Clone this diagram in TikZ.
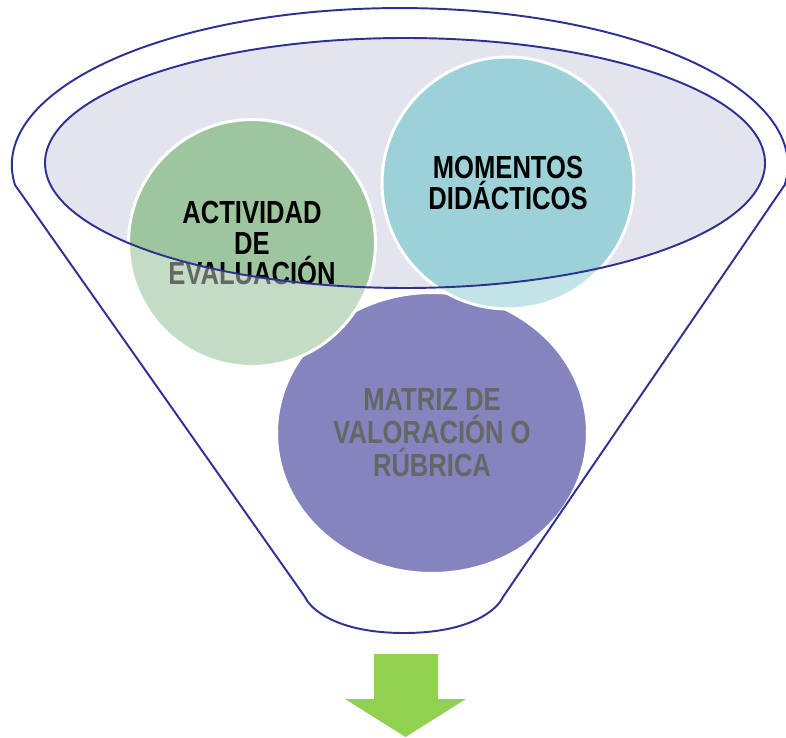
\documentclass[tikz,border=0pt]{standalone}
\usepackage{fontspec}
\newfontfamily\bubblefont[FakeStretch=0.8]{Liberation Sans}
\usetikzlibrary{shapes.geometric}

\definecolor{funnelblue}{HTML}{2E3192}
\definecolor{rimgray}{HTML}{E4E4EE}
\definecolor{actgreen}{HTML}{9EC69E}
\definecolor{momblue}{HTML}{9CD2D7}
\definecolor{matpurple}{HTML}{343294}
\definecolor{arrowgreen}{HTML}{92D050}

\begin{document}
\begin{tikzpicture}[
		x=0.02cm, y=0.02cm,
		bubble/.style={circle, draw=white, line width=1.7pt, inner sep=0pt},
		caption/.style={font=\bubblefont\bfseries\fontsize{18.2pt}{#1}\selectfont, align=center, text=black},
		caption/.default=17.6pt,
		rim/.style={draw=funnelblue, line width=1.1pt}
		]
		
		\useasboundingbox (0,0) rectangle (786,737);
		
		% Funnel mouth
		\coordinate (mouth) at (405,574);
		\fill[rimgray] (mouth) ellipse [x radius=360, y radius=125];
		
		% Bubbles
		\node[bubble, caption=18.8pt, ellipse, fill=matpurple, minimum width=6.22cm, minimum height=5.62cm] (matriz) at (432,304) {MATRIZ DE\\VALORACIÓN O\\RÚBRICA};
		\node[bubble, caption, fill=actgreen, minimum size=4.94cm] (actividad) at (252,494) {ACTIVIDAD\\DE\\EVALUACIÓN};
		\node[bubble, caption, fill=momblue, minimum size=5.04cm] (momentos) at (508,554) {MOMENTOS\\DIDÁCTICOS};
		
		% Light veil outside the mouth
		\fill[white, fill opacity=0.4, even odd rule] (0,0) rectangle (786,737) (mouth) ellipse [x radius=360, y radius=125];
		
		% Funnel outline
		\draw[rim] (15,552) arc [start angle=187.3, end angle=-7.3, x radius=388, y radius=157]
			-- (503,140) .. controls (497,127) and (470,104) .. (404,104)
			.. controls (338,104) and (311,127) .. (305,140) -- cycle;
		\draw[rim] (mouth) ellipse [x radius=360, y radius=125];
		
		% Output arrow
		\fill[arrowgreen] (374,83) -- (438,83) -- (438,38) -- (466,38) -- (405.5,0) -- (345,38) -- (374,38) -- cycle;
		
	\end{tikzpicture}
\end{document}
